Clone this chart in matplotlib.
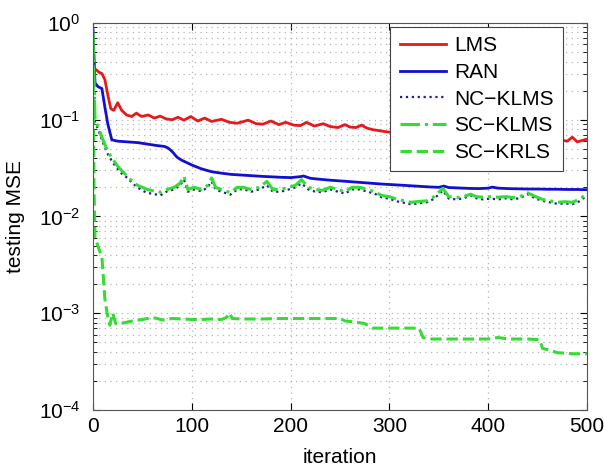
import matplotlib
matplotlib.use("Agg")
import matplotlib.pyplot as plt
from matplotlib.ticker import LogLocator, NullFormatter, FixedLocator

plt.rcParams['font.family'] = ['Liberation Sans', 'DejaVu Sans']
plt.rcParams['mathtext.default'] = 'regular'

# LMS (red)
lms_it = [0, 3, 6, 9, 12, 15, 18, 21, 25, 29, 34, 39, 44, 49, 56, 62, 68, 74, 80, 86, 92,
          99, 106, 113, 120, 130, 138, 146, 157, 165, 172, 180, 188, 195, 203, 210, 216,
          224, 233, 240, 248, 255, 260, 266, 272, 277, 283, 290, 297, 303, 310, 320, 330,
          340, 350, 360, 370, 380, 390, 400, 410, 420, 430, 440, 450, 460, 470, 476, 480,
          485, 490, 495, 500]
lms_val = [0.34, 0.33, 0.31, 0.30, 0.26, 0.18, 0.13, 0.125, 0.15, 0.125, 0.112, 0.108, 0.117,
           0.108, 0.112, 0.104, 0.109, 0.102, 0.100, 0.106, 0.099, 0.108, 0.097, 0.104,
           0.096, 0.101, 0.094, 0.092, 0.099, 0.091, 0.090, 0.097, 0.089, 0.094, 0.088,
           0.087, 0.094, 0.086, 0.091, 0.085, 0.083, 0.089, 0.084, 0.083, 0.088, 0.082,
           0.079, 0.077, 0.075, 0.074, 0.072, 0.071, 0.070, 0.069, 0.068, 0.068, 0.067,
           0.067, 0.066, 0.066, 0.065, 0.065, 0.064, 0.064, 0.063, 0.063, 0.062, 0.061,
           0.060, 0.066, 0.059, 0.061, 0.063]

# RAN (blue)
ran_it = [0, 1, 2, 5, 9, 12, 15, 19, 25, 35, 45, 55, 65, 72, 76, 80, 85, 90, 95, 100, 110,
          120, 130, 140, 150, 160, 170, 180, 190, 200, 210, 213, 220, 230, 240, 250, 260,
          270, 280, 290, 300, 310, 320, 330, 340, 350, 355, 360, 370, 380, 390, 400, 404,
          410, 420, 430, 440, 450, 460, 470, 480, 490, 500]
ran_val = [0.85, 0.45, 0.24, 0.22, 0.21, 0.135, 0.09, 0.062, 0.060, 0.059, 0.058, 0.056,
           0.054, 0.053, 0.051, 0.047, 0.041, 0.038, 0.036, 0.034, 0.031, 0.029, 0.028,
           0.0272, 0.0268, 0.0264, 0.026, 0.0257, 0.0254, 0.0252, 0.0258, 0.0262, 0.0248,
           0.0242, 0.0237, 0.0233, 0.0229, 0.0225, 0.0221, 0.0217, 0.0214, 0.0211, 0.0208,
           0.0205, 0.0202, 0.0200, 0.0206, 0.0199, 0.0197, 0.0195, 0.0194, 0.0196, 0.0201,
           0.0196, 0.0194, 0.0193, 0.0192, 0.0192, 0.0191, 0.0191, 0.0190, 0.0190, 0.0189]

# SC-KLMS (green dash-dot)
sck_it = [0, 1, 2, 5, 10, 15, 20, 25, 30, 35, 40, 45, 50, 55, 60, 68, 75, 82, 88, 92, 96,
          102, 110, 116, 120, 124, 130, 139, 146, 152, 160, 168, 176, 182, 190, 198, 205,
          211, 218, 225, 232, 240, 248, 255, 262, 270, 278, 285, 292, 300, 308, 315, 322,
          330, 338, 345, 354, 360, 368, 375, 382, 388, 395, 402, 410, 418, 425, 432, 440,
          448, 455, 462, 470, 478, 485, 492, 500]
sck_val = [0.75, 0.3, 0.1, 0.085, 0.062, 0.047, 0.039, 0.033, 0.029, 0.026, 0.023, 0.021,
           0.020, 0.019, 0.0185, 0.0178, 0.019, 0.020, 0.022, 0.026, 0.019, 0.020, 0.019,
           0.021, 0.025, 0.020, 0.019, 0.0176, 0.020, 0.020, 0.019, 0.020, 0.023, 0.019,
           0.019, 0.020, 0.021, 0.024, 0.020, 0.019, 0.0186, 0.020, 0.019, 0.018, 0.020,
           0.020, 0.019, 0.018, 0.0165, 0.016, 0.015, 0.0145, 0.014, 0.0143, 0.0145, 0.016,
           0.0195, 0.016, 0.0157, 0.016, 0.017, 0.016, 0.0158, 0.016, 0.0158, 0.016, 0.0157,
           0.016, 0.0175, 0.016, 0.015, 0.0145, 0.014, 0.0142, 0.014, 0.015, 0.0172]

# NC-KLMS (blue dotted)
nck_it = sck_it
nck_val = [0.7, 0.28, 0.095, 0.08, 0.058, 0.044, 0.036, 0.031, 0.027, 0.025, 0.022, 0.020,
           0.0185, 0.0175, 0.0172, 0.0165, 0.0182, 0.019, 0.021, 0.024, 0.018, 0.019, 0.0182,
           0.020, 0.023, 0.019, 0.018, 0.0168, 0.019, 0.0192, 0.018, 0.019, 0.021, 0.018,
           0.018, 0.019, 0.020, 0.022, 0.019, 0.018, 0.0178, 0.019, 0.018, 0.0172, 0.019,
           0.019, 0.018, 0.0172, 0.0158, 0.0152, 0.0143, 0.0138, 0.0133, 0.0137, 0.014,
           0.0152, 0.0185, 0.0153, 0.015, 0.0154, 0.0165, 0.0154, 0.015, 0.0153, 0.015,
           0.0154, 0.015, 0.0155, 0.017, 0.0153, 0.0145, 0.014, 0.0135, 0.0136, 0.0134,
           0.0143, 0.0165]

# SC-KRLS (green dashed)
krls_it = [0, 1, 2, 4, 6, 9, 12, 15, 17, 20, 23, 30, 40, 50, 60, 65, 70, 80, 90, 100, 110,
           120, 130, 135, 138, 141, 150, 170, 190, 210, 230, 250, 255, 265, 275, 283, 300,
           320, 330, 334, 340, 360, 380, 400, 410, 420, 440, 452, 455, 460, 470, 485, 500]
krls_val = [0.8, 0.02, 0.006, 0.0053, 0.0046, 0.0038, 0.0014, 0.0009, 0.00075, 0.001,
            0.00078, 0.00079, 0.00083, 0.00086, 0.0009, 0.00088, 0.00085, 0.00088, 0.00087,
            0.00086, 0.00086, 0.00087, 0.00086, 0.0009, 0.001, 0.00088, 0.00087, 0.00087,
            0.00088, 0.00088, 0.00088, 0.00088, 0.00083, 0.00081, 0.00078, 0.0007, 0.0007,
            0.0007, 0.0007, 0.00056, 0.00054, 0.00054, 0.00054, 0.00054, 0.00056, 0.00054,
            0.00054, 0.00053, 0.00043, 0.00042, 0.00039, 0.00038, 0.00038]

fig = plt.figure(figsize=(6.04, 4.70), dpi=100)
ax = fig.add_axes([0.154, 0.128, 0.818, 0.823])

ax.plot(lms_it, lms_val, color="#e41a1c", lw=2.0, label="LMS")
ax.plot(ran_it, ran_val, color="#1010d0", lw=2.0, label="RAN")
ax.plot(nck_it, nck_val, color="#202090", lw=1.6, ls=":", label="NC\u2212KLMS")
ax.plot(sck_it, sck_val, color="#33dd33", lw=2.2, ls="-.", label="SC\u2212KLMS")
ax.plot(krls_it, krls_val, color="#33dd33", lw=2.2, ls="--", label="SC\u2212KRLS")

ax.set_yscale("log")
ax.set_xlim(0, 500)
ax.set_ylim(1e-4, 1e0)
ax.xaxis.set_major_locator(FixedLocator([0, 100, 200, 300, 400, 500]))
ax.yaxis.set_major_locator(FixedLocator([1e-4, 1e-3, 1e-2, 1e-1, 1e0]))
ax.yaxis.set_minor_locator(LogLocator(base=10, subs=range(2, 10)))
ax.yaxis.set_minor_formatter(NullFormatter())
ax.set_yticklabels(["$10^{-4}$", "$10^{-3}$", "$10^{-2}$", "$10^{-1}$", "$10^{0}$"])

grid_style = dict(color="#b5b5b5", ls=(0, (1, 3.5)), lw=0.9)
ax.grid(True, which="major", **grid_style)
ax.grid(True, which="minor", axis="y", **grid_style)
ax.tick_params(which="both", direction="in", top=True, right=True, labelsize=15)
ax.tick_params(which="major", length=5)
ax.tick_params(which="minor", length=3)
ax.tick_params(axis="y", pad=9)
ax.tick_params(axis="x", pad=5)
for s in ax.spines.values():
    s.set_color("#555555")

ax.set_xlabel("iteration", fontsize=15, labelpad=9)
ax.set_ylabel("testing MSE", fontsize=15, labelpad=10)

leg = ax.legend(loc="upper right", bbox_to_anchor=(0.951, 0.99), fontsize=15,
                fancybox=False, framealpha=1, edgecolor="#444444", handlelength=2.2,
                borderaxespad=0, labelspacing=0.37, handletextpad=0.4, borderpad=0.45)
leg.get_frame().set_linewidth(0.8)

fig.savefig("out.png", dpi=100)
